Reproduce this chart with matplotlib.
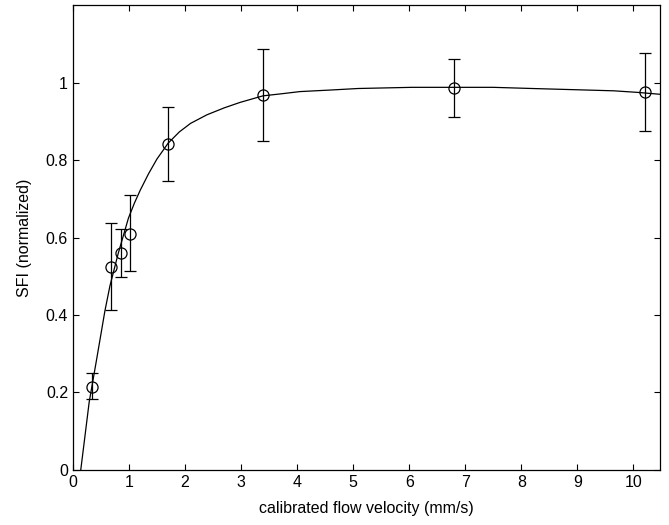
import numpy as np
import matplotlib.pyplot as plt

plt.rcParams['font.family'] = ['Liberation Sans', 'DejaVu Sans']

# measured points
vitesse = [0.34, 0.68, 0.85, 1.02, 1.70, 3.40, 6.80, 10.20]
sfi = [0.215, 0.525, 0.560, 0.610, 0.842, 0.968, 0.987, 0.975]
err_bas = [0.183, 0.413, 0.497, 0.513, 0.745, 0.850, 0.912, 0.875]
err_haut = [0.250, 0.637, 0.622, 0.710, 0.937, 1.088, 1.062, 1.077]

# fitted curve
courbe_x = [0.14, 0.20, 0.29, 0.42, 0.57, 0.66, 0.81, 0.99, 1.10, 1.20, 1.35,
            1.50, 1.70, 1.90, 2.10, 2.39, 2.70, 2.98, 3.39, 3.70, 4.05, 4.59,
            5.09, 6.05, 6.80, 7.50, 8.19, 9.17, 9.65, 10.07, 10.48]
courbe_y = [0.0, 0.07, 0.175, 0.283, 0.41, 0.475, 0.56, 0.65, 0.69, 0.722, 0.765,
            0.803, 0.844, 0.873, 0.895, 0.917, 0.935, 0.949, 0.966, 0.971, 0.977, 0.981,
            0.985, 0.988, 0.988, 0.988, 0.985, 0.981, 0.979, 0.975, 0.970]

x_ticks = [0, 1, 2, 3, 4, 5, 6, 7, 8, 9, 10]
y_ticks = [0, 0.2, 0.4, 0.6, 0.8, 1.0]
y_labels = ['0', '0.2', '0.4', '0.6', '0.8', '1']

fig = plt.figure(figsize=(6.69, 5.25), dpi=100)
ax = fig.add_axes([0.109, 0.105, 0.878, 0.885])

ax.plot(courbe_x, courbe_y, color='black', linewidth=0.9)

sfi = np.array(sfi)
yerr = [sfi - np.array(err_bas), np.array(err_haut) - sfi]
ax.errorbar(vitesse, sfi, yerr=yerr, fmt='o', markersize=8, markerfacecolor='none',
            markeredgecolor='black', markeredgewidth=0.9, ecolor='black',
            elinewidth=0.9, capsize=4, capthick=0.9)

ax.set_xlim(0, 10.48)
ax.set_ylim(0, 1.2)
ax.set_xticks(x_ticks)
ax.set_yticks(y_ticks)
ax.set_yticklabels(y_labels)
ax.tick_params(direction='in', top=True, right=True, length=4.5, width=0.8, labelsize=11.5)
for s in ax.spines.values():
    s.set_linewidth(0.9)

ax.set_xlabel('calibrated flow velocity (mm/s)', fontsize=11.5, labelpad=8)
ax.set_ylabel('SFI (normalized)', fontsize=11.5, labelpad=10)

fig.savefig('out.png', dpi=100)
